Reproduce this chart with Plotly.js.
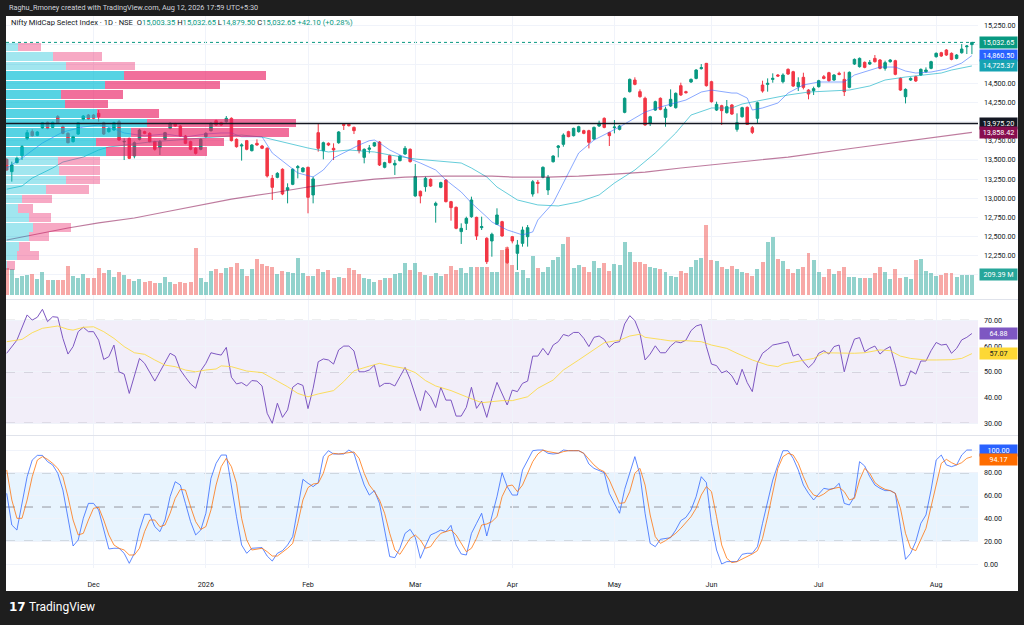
<!DOCTYPE html>
<html><head><meta charset="utf-8">
<script src="https://cdn.plot.ly/plotly-3.0.1.min.js"></script>
<style>html,body{margin:0;padding:0;background:#1e1e1e;}#chart{width:1024px;height:625px;}</style>
</head><body><div id="chart"></div>
<script>
// ---------------- DATA ----------------
const openP = [13507,13346,13464,13555,13777,13868,13820,13916,13990,13924,
14064,13933,13846,13738,13837,14029,14085,14085,14107,13985,
13868,13890,13998,13735,13781,13551,13768,13868,13846,13738,
13659,13768,13911,13968,13942,13811,13738,13651,13638,13803,
13881,14011,13985,13998,14042,13768,13681,13751,13620,13716,
13681,13651,13259,13272,13377,13107,13181,13398,13346,13403,
13042,13855,13620,13716,13651,13724,13964,13964,13924,13751,
13533,13638,13681,13733,13403,13555,13433,13490,13577,13638,
13029,13090,13151,13246,12907,13142,13237,12955,12881,12564,
12672,12759,12750,12616,12477,12442,12659,12694,12337,12498,
12281,12411,12498,13055,13207,13272,13107,13476,13663,13703,
13868,13816,13868,13881,13881,13772,13942,14042,13855,13920,
13898,14120,14390,14542,14390,14303,13977,14150,14303,14055,
14203,14181,14468,14390,14516,14563,14690,14759,14520,14150,
14207,14116,14216,13898,14063,14185,13920,14042,14476,14485,
14550,14607,14520,14681,14650,14455,14577,14411,14403,14455,
14585,14637,14542,14629,14550,14446,14750,14716,14772,14750,
14824,14803,14694,14781,14794,14563,14324,14542,14585,14607,
14650,14694,14846,14898,14933,14890,14824,14898,14976,15003.35];
const highP = [13520,13477,13542,13694,13890,13898,13875,13995,14000,14000,
14085,13950,13860,13815,13995,14085,14098,14098,14150,13998,
13925,13998,14020,13781,13790,13740,13905,13880,13860,13750,
13759,13865,13990,13985,13955,13825,13750,13665,13780,13860,
13990,14025,13998,14072,14055,13780,13716,13760,13705,13768,
13695,13665,13303,13340,13390,13194,13390,13433,13405,13411,
13281,13977,13738,13728,13716,13875,13977,13975,13935,13759,
13650,13694,13735,13745,13475,13568,13498,13560,13681,13650,
13446,13100,13281,13258,12955,13215,13250,12965,12892,12672,
12759,13020,12759,12759,12490,12550,12868,12705,12368,12507,
12455,12629,12650,13237,13237,13415,13303,13560,13694,13846,
13880,13920,13945,13893,13893,13935,14011,14055,13867,14020,
13955,14315,14562,14577,14420,14324,14075,14272,14315,14194,
14420,14380,14507,14402,14562,14684,14750,14765,14532,14259,
14219,14281,14228,14107,14193,14197,13942,14259,14533,14563,
14629,14620,14629,14694,14662,14577,14637,14423,14455,14545,
14607,14649,14619,14650,14650,14654,14823,14836,14784,14803,
14868,14815,14794,14815,14806,14575,14433,14577,14597,14693,
14707,14793,14902,14910,14945,14902,14880,15011,14998,15032.65];
const lowP = [13359,13216,13455,13498,13759,13803,13810,13905,13900,13915,
13977,13835,13715,13725,13825,14015,14020,14029,13998,13825,
13855,13880,13750,13498,13510,13520,13755,13835,13728,13620,
13564,13755,13900,13930,13800,13705,13625,13570,13625,13790,
13870,13945,13945,13985,13740,13660,13490,13625,13610,13685,
13640,13270,12977,13260,13040,12933,13170,13259,13335,12803,
12933,13607,13507,13680,13498,13710,13890,13935,13837,13585,
13455,13585,13670,13420,13390,13455,13303,13480,13565,13465,
13020,12933,13085,13148,12681,13130,12945,12707,12595,12403,
12585,12745,12455,12585,12142,12237,12650,12498,12142,12411,
12063,12368,12368,13020,13063,13260,13042,13465,13533,13672,
13795,13805,13855,13835,13650,13760,13930,13912,13681,13846,
13885,14108,14378,14473,14312,13946,13942,14138,14147,13933,
14190,14169,14334,14365,14504,14551,14678,14456,14247,14138,
13955,14104,14086,13868,14051,13955,13837,13976,14377,14390,
14507,14585,14498,14608,14451,14398,14420,14290,14346,14443,
14551,14521,14530,14604,14333,14434,14738,14704,14695,14738,
14769,14682,14664,14769,14604,14399,14237,14530,14517,14595,
14638,14682,14834,14843,14856,14799,14812,14886,14881,14879.5];
const closeP = [13368,13433,13520,13672,13855,13816,13864,13985,13911,13990,
13985,13846,13724,13803,13985,14072,14033,14042,14064,13837,
13911,13985,13759,13740,13520,13724,13890,13846,13738,13638,
13738,13855,13977,13942,13811,13716,13638,13585,13768,13846,
13977,13955,13955,14042,13751,13672,13694,13638,13694,13694,
13651,13290,13142,13324,13055,13137,13377,13411,13394,13011,
13251,13651,13724,13694,13629,13864,13951,13946,13881,13620,
13638,13655,13724,13433,13464,13464,13455,13551,13651,13477,
13281,13029,13259,13159,12933,13203,12955,12877,12607,12607,
12737,12977,12507,12629,12172,12529,12781,12507,12159,12442,
12389,12585,12616,13215,13194,13403,13272,13550,13681,13824,
13803,13911,13933,13846,13729,13924,13977,13924,13816,13928,
13942,14303,14550,14485,14324,13955,14063,14259,14159,14163,
14290,14368,14346,14377,14550,14672,14703,14468,14259,14224,
14142,14194,14098,13985,14181,13963,13859,14246,14398,14498,
14563,14594,14607,14620,14463,14511,14446,14359,14429,14533,
14563,14533,14607,14616,14390,14642,14811,14824,14707,14772,
14781,14694,14768,14803,14616,14411,14420,14563,14529,14681,
14672,14781,14890,14855,14868,14811,14868,14946,14985,15032.65];
// volume in millions
const volumeM = [279,269,175,203,209,220,168,244,157,157,
157,157,304,203,182,217,182,175,279,227,
262,192,244,209,164,150,168,140,147,129,
129,192,133,115,133,122,140,489,182,136,
251,272,227,286,297,335,269,203,269,374,
325,304,290,220,251,241,227,391,227,199,
199,272,244,262,175,192,182,286,262,220,
175,168,140,157,175,182,220,227,339,262,
332,244,209,199,227,199,220,304,262,286,
234,297,297,296,296,244,244,471,506,314,
244,262,175,409,279,244,296,366,401,534,
604,279,314,290,237,356,286,332,255,325,
314,551,454,349,349,325,296,279,269,237,
202,192,255,234,290,366,391,733,366,356,
290,269,304,269,244,227,202,272,342,558,
611,377,356,272,227,269,290,443,366,244,
185,272,216,251,290,192,192,175,175,182,
227,290,244,164,272,175,185,164,366,377,
255,227,199,209,227,227,185,209,209,209.39];
// moving averages: [bar number, value] read at vertices
const emaFastBars = [0,3,7,11,15,18,20,23,27,31,35,39,42,44,46,50,52,55,57,60,62,64,67,69,71,72,73,75,77,79,81,84,86,89,91,94,95,98,101,103,104,107,110,112,115,118,120,123,125,128,131,133,136,138,142,143,145,146,148,151,153,156,159,162,164,166,169,171,174,176,178,181,184,187,189];
const emaFastVals = [13394,13524,13720,13864,13929,13955,13929,13851,13812,13838,13799,13838,13851,13851,13802,13802,13590,13434,13329,13277,13368,13524,13629,13694,13750,13759,13720,13629,13564,13511,13459,13368,13238,13081,12938,12755,12690,12586,12521,12560,12716,12938,13329,13590,13759,13864,13929,14046,14124,14190,14242,14281,14385,14411,14372,14372,14307,14150,14177,14242,14372,14477,14516,14516,14516,14607,14672,14711,14711,14659,14633,14646,14685,14763,14860.5];
const emaSlowBars = [0,3,5,9,11,15,18,20,28,38,46,50,54,59,63,67,72,75,80,85,89,91,94,96,100,104,108,112,116,119,123,127,131,134,138,142,144,146,150,153,157,161,165,169,172,176,179,183,185,189];
const emaSlowVals = [13118,13159,13263,13394,13472,13537,13629,13668,13733,13785,13824,13798,13733,13655,13603,13629,13603,13564,13511,13485,13459,13394,13277,13146,12977,12912,12899,12951,13042,13198,13368,13590,13850,14085,14177,14177,14229,14255,14307,14346,14385,14398,14411,14464,14542,14581,14607,14633,14672,14725.37];
const sma200Bars = [0,5,12,18,25,31,38,44,52,59,65,72,78,85,95,99,106,112,119,125,132,140,153,166,179,189];
const sma200Vals = [12455,12520,12611,12677,12742,12820,12911,12989,13068,13146,13198,13250,13276,13289,13289,13276,13276,13289,13315,13341,13394,13446,13537,13655,13772,13858.42];
const hLineLevel = 13975.20;
// RSI (one value per bar, null where unreadable)
const rsiVals = [57.2,null,62.3,null,72.1,70.1,71.2,74.3,69.5,71.4,
71.2,63.0,56.9,59.8,65.6,67.3,65.6,65.6,62.3,54.8,
55.9,60.4,50.0,49.1,41.6,48.8,55.2,53.3,50.0,46.4,
50.0,53.9,57.2,56.1,50.7,47.9,45.3,43.6,50.4,53.3,
57.4,56.9,56.5,59.5,47.9,45.3,45.8,44.5,46.6,46.4,
44.5,33.9,30.0,37.8,32.3,35.2,44.0,45.5,44.7,35.7,
43.6,53.9,55.0,54.6,53.0,58.5,60.0,60.0,58.1,50.0,
50.0,50.7,52.6,44.2,45.5,45.5,44.5,48.1,51.7,47.1,
41.0,34.9,42.7,40.3,36.1,44.0,39.0,39.0,32.8,32.8,
36.2,44.0,35.8,38.6,32.3,39.7,45.9,41.6,37.1,42.9,
42.3,45.5,46.4,56.1,56.1,59.1,56.5,60.4,61.7,64.5,
63.9,65.3,65.3,63.0,59.8,63.4,63.9,62.6,59.5,61.3,
61.7,68.6,71.8,69.9,64.9,54.6,56.9,60.1,57.4,57.4,
60.0,61.7,61.3,62.3,66.0,67.8,68.4,59.8,53.0,52.4,
49.6,50.4,48.4,44.9,51.0,45.8,42.3,53.3,57.2,58.7,
60.4,60.8,61.3,61.7,56.1,56.9,53.9,51.6,53.5,57.2,
58.2,56.9,59.8,60.4,50.0,57.4,62.7,63.3,57.8,59.1,
60.0,56.9,58.7,59.8,52.6,44.5,44.9,50.4,49.1,54.2,
54.2,58.2,61.4,60.4,60.7,57.2,59.1,62.4,63.4,64.88];
const rsiMaBars = [0,3,5,7,10,12,13,15,17,19,21,23,25,27,29,31,33,35,37,39,41,42,44,47,50,52,55,57,59,61,64,66,68,71,73,76,78,80,82,84,87,90,93,97,99,102,104,107,109,112,115,117,120,122,124,125,128,130,133,136,138,141,143,146,149,151,152,155,158,160,163,166,168,171,173,175,177,180,182,185,187,189];
const rsiMaVals = [61.7,62.6,65.2,66.9,67.8,66.5,66.2,67.3,67.5,65.6,63.0,59.8,57.4,56.8,54.6,52.6,52.0,50.7,50.0,50.7,51.1,52.3,52.0,50.3,49.7,47.5,44.2,41.6,40.3,41.4,42.7,46.2,50.4,52.2,53.3,52.0,51.3,49.7,46.6,44.5,42.7,40.3,38.0,38.8,38.8,40.3,43.6,46.8,50.7,54.6,58.5,61.3,62.3,63.9,64.6,63.4,62.6,62.0,62.1,61.7,60.4,59.1,57.2,54.6,52.6,52.0,53.0,54.2,55.2,57.4,57.2,57.2,57.4,58.5,58.2,56.1,55.2,54.6,54.6,54.7,55.2,57.07];
// Stochastic RSI %K and %D (one value per bar)
const stochK = [62.0,34.2,29.8,53.2,76.6,91.2,95.3,95.3,89.8,86.9,
79.6,64.9,38.6,15.8,21.1,40.1,53.2,53.2,47.4,29.8,
13.2,13.8,13.8,9.4,0.6,9.4,29.8,43.6,43.6,32.8,
28.4,38.6,59.1,72.2,69.3,53.2,37.2,25.5,29.8,44.5,
75.2,88.3,95.6,95.6,67.9,41.5,16.7,9.4,13.8,13.8,
14.4,7.0,2.6,9.4,11.7,16.7,24.0,48.9,74.3,70.8,
67.9,71.4,94.2,99.4,96.5,96.5,96.5,100,97.1,82.5,
69.3,60.5,64.4,53.2,31.3,6.5,5.6,13.8,26.9,30.4,
23.4,5.0,15.8,25.5,27.5,29.8,28.4,33.9,16.7,8.8,
7.9,26.9,35.7,44.5,24.6,41.5,59.1,80.1,67.9,60.5,
60.5,82.5,null,99.4,100,100,97.1,96.5,97.1,100,
99.4,99.4,99.4,97.1,87.7,83.9,81.9,80.1,62.0,52.7,
44.5,65.5,81.0,94.2,78.1,44.5,18.1,15.2,21.7,22.5,
23.1,29.8,38.0,40.9,47.4,59.1,76.6,71.4,35.7,12.3,
0,2.1,2.1,2.1,8.5,9.4,9.4,15.2,35.7,56.2,
73.7,86.9,99.4,99.4,92.7,82.5,69.3,62.0,56.2,61.4,
66.4,65.5,66.4,70.8,53.2,51.8,59.1,89.8,86.0,76.6,
69.3,66.4,64.4,64.4,62.0,32.8,4.1,9.4,19.6,35.7,
43.0,64.9,91.2,95.6,86.9,85.4,86.9,95.6,100,100];
const stochD = [82.5,56.2,40.1,40.1,56.2,76.6,91.2,94.2,91.8,88.3,
83.9,76.6,59.1,38.6,25.5,26.9,38.6,48.9,49.7,38.6,
25.5,16.7,13.8,12.3,7.9,7.9,13.8,28.4,38.6,38.6,
32.8,34.2,44.5,57.6,65.5,64.9,50.3,37.2,30.4,32.8,
47.4,69.3,85.4,92.7,85.4,70.8,40.1,21.1,12.3,12.9,
13.8,10.8,7.0,7.0,10.3,13.8,18.1,35.7,56.2,67.0,
70.2,70.8,79.6,94.8,97.1,96.5,97.1,97.7,98.3,92.7,
79.6,69.3,63.5,56.2,44.5,26.9,12.3,8.5,15.2,22.5,
25.5,21.1,13.8,15.2,21.7,26.9,28.4,29.8,25.5,18.1,
10.8,13.8,22.5,34.2,35.1,37.2,41.5,59.1,68.4,69.3,
63.5,69.3,null,89.8,96.5,100,98.6,97.7,97.1,98.6,
99.4,99.4,99.4,97.1,91.8,86.9,83.1,81.0,73.7,63.5,
53.2,53.8,63.5,79.6,83.9,69.3,43.0,24.0,18.1,20.5,
23.4,26.9,31.3,36.3,41.5,48.9,60.5,67.9,63.5,41.5,
16.7,5.0,1.2,2.1,4.1,6.5,8.8,11.7,22.5,41.5,
62.0,83.9,94.2,97.1,95.6,88.3,76.6,66.4,60.5,59.1,
61.4,64.9,66.4,67.3,63.5,56.2,57.6,73.7,83.9,79.6,
71.4,67.9,65.5,64.4,62.0,48.9,26.9,13.8,11.7,21.1,
31.3,50.3,70.8,88.3,91.8,88.9,86.9,88.9,92.7,94.17];
// visible-range volume profile (24 rows, top to bottom)
const profileLevels = [14970.8,14847.1,14723.4,14599.7,14476.0,14352.3,14228.6,14104.9,13981.2,13857.5,13733.8,13610.1,13486.4,13362.7,13239.0,13115.3,12991.6,12867.9,12744.2,12620.5,12496.8,12373.1,12249.4,12125.7];
const profileUp = [12.3,47.3,59.7,118.3,99.3,55.3,59.3,90.7,141.3,124.7,90,99.7,52,52.7,60.3,39.7,16,12.3,23.3,27,22.7,13,10.7,1];
const profileDown = [22.7,48.4,69.3,141.7,114.7,62,43,62,148.7,158.6,128,101,41.7,41.3,33.7,43,29.7,14.4,21.7,37.7,20,10.7,22.3,7.6];
const valueAreaRows = [3, 11];
// axes
const monthTickBars = [17,39,59,80,99,119,138,159,182];
const monthTickText = ['Dec','2026','Feb','Mar','Apr','May','Jun','Jul','Aug'];
const priceTicks = [12000,12250,12500,12750,13000,13250,13500,13750,14000,14250,14500,14750,15000,15250];
const priceTicksCovered = [14000,14750,15000];   // labels hidden under price tags in the picture
const rsiTicks = [30,40,50,60,70];
const stochTicks = [0,20,40,60,80,100];
const stochTicksCovered = [100];
const headerText = 'Raghu_Rmoney created with TradingView.com, Aug 12, 2026 17:59 UTC+5:30';
const symbolText = 'Nifty MidCap Select Index · 1D · NSE';
const ohlcText = {O:'15,003.35', H:'15,032.65', L:'14,879.50', C:'15,032.65', chg:'+42.10 (+0.28%)'};

// ---------------- BUILD ----------------
const bars = openP.map((_, i) => i);
const UP = '#089981', DN = '#f23645';
const volColors = bars.map(i => closeP[i] >= openP[i] ? 'rgba(38,166,154,0.5)' : 'rgba(239,83,80,0.5)');
const inVA = r => r >= valueAreaRows[0] && r <= valueAreaRows[1];
const upCols = profileLevels.map((_, r) => inVA(r) ? 'rgba(0,188,212,0.66)' : 'rgba(0,188,212,0.37)');
const dnCols = profileLevels.map((_, r) => inVA(r) ? 'rgba(233,30,99,0.64)' : 'rgba(233,30,99,0.38)');

const traces = [
  {type:'candlestick', x:bars, open:openP, high:highP, low:lowP, close:closeP, xaxis:'x', yaxis:'y',
   increasing:{line:{color:UP,width:1}, fillcolor:UP}, decreasing:{line:{color:DN,width:1}, fillcolor:DN},
   whiskerwidth:0, hoverinfo:'skip'},
  {type:'scatter', mode:'lines', x:emaFastBars, y:emaFastVals, xaxis:'x', yaxis:'y', line:{color:'rgba(41,98,255,0.55)', width:1}},
  {type:'scatter', mode:'lines', x:emaSlowBars, y:emaSlowVals, xaxis:'x', yaxis:'y', line:{color:'rgba(0,172,193,0.6)', width:1}},
  {type:'scatter', mode:'lines', x:sma200Bars, y:sma200Vals, xaxis:'x', yaxis:'y', line:{color:'rgba(136,14,79,0.55)', width:1.2}},
  {type:'bar', x:bars, y:volumeM, xaxis:'x', yaxis:'y2', width:0.78, marker:{color:volColors, line:{width:0}}},
  {type:'bar', orientation:'h', y:profileLevels, x:profileUp, xaxis:'x2', yaxis:'y', width:113, marker:{color:upCols, line:{width:0}}},
  {type:'bar', orientation:'h', y:profileLevels, x:profileDown, xaxis:'x2', yaxis:'y', width:113, marker:{color:dnCols, line:{width:0}}},
  {type:'scatter', mode:'lines', x:bars, y:rsiVals, connectgaps:true, xaxis:'x', yaxis:'y3', line:{color:'#7e57c2', width:1}},
  {type:'scatter', mode:'lines', x:rsiMaBars, y:rsiMaVals, xaxis:'x', yaxis:'y3', line:{color:'rgba(253,216,53,0.8)', width:1}},
  {type:'scatter', mode:'lines', x:bars, y:stochK, connectgaps:true, xaxis:'x', yaxis:'y4', line:{color:'rgba(41,98,255,0.75)', width:1}},
  {type:'scatter', mode:'lines', x:bars, y:stochD, connectgaps:true, xaxis:'x', yaxis:'y4', line:{color:'rgba(255,109,0,0.75)', width:1}}
];

const PLOT_W = 972, PLOT_H = 552, ML = 6, MT = 16;
const px2x = X => (X - ML) / PLOT_W;
const px2y = Y => (MT + PLOT_H - Y) / PLOT_H;
const FONT = 'Roboto, "Liberation Sans", Arial, sans-serif';
const tickFont = {family:FONT, size:7.2, color:'#131722'};
const fmt2 = v => v.toLocaleString('en-US', {minimumFractionDigits:2, maximumFractionDigits:2});
const priceTickText = priceTicks.map(v => priceTicksCovered.includes(v) ? '' : fmt2(v));
const stochTickText = stochTicks.map(v => stochTicksCovered.includes(v) ? '' : v.toFixed(2));

function hline(yref, y, color, width, dash, layer){
  return {type:'line', xref:'paper', yref:yref, x0:0, x1:1, y0:y, y1:y, line:{color:color, width:width, dash:dash||'solid'}, layer:layer||'below'};
}
const shapes = [
  {type:'rect', xref:'paper', yref:'paper', x0:0, x1:px2x(1018), y0:px2y(591), y1:1, fillcolor:'#ffffff', line:{width:0}, layer:'below'},
  {type:'rect', xref:'paper', yref:'y3', x0:0, x1:1, y0:30, y1:70, fillcolor:'rgba(126,87,194,0.1)', line:{width:0}, layer:'below'},
  {type:'rect', xref:'paper', yref:'y4', x0:0, x1:1, y0:20, y1:80, fillcolor:'rgba(33,150,243,0.1)', line:{width:0}, layer:'below'},
  hline('y3', 70, '#9598a1', 1, 'dash'), hline('y3', 50, '#9598a1', 1, 'dash'), hline('y3', 30, '#9598a1', 1, 'dash'),
  hline('y4', 80, '#9598a1', 1, 'dash'), hline('y4', 50, '#9598a1', 1, 'dash'), hline('y4', 20, '#9598a1', 1, 'dash'),
  {type:'line', xref:'paper', yref:'paper', x0:0, x1:px2x(1018), y0:px2y(299.5), y1:px2y(299.5), line:{color:'#e0e3eb', width:1}, layer:'above'},
  {type:'line', xref:'paper', yref:'paper', x0:0, x1:px2x(1018), y0:px2y(435.5), y1:px2y(435.5), line:{color:'#e0e3eb', width:1}, layer:'above'},
  hline('y', closeP[closeP.length-1], UP, 1, 'dot'),
  hline('y', hLineLevel, '#131722', 1.6, 'solid', 'above')
];

function tag(yref, y, text, bg, fg, yshift){
  return {xref:'paper', yref:yref, x:px2x(979), y:y, xanchor:'left', yanchor:'middle', text:text, showarrow:false,
    bgcolor:bg, borderpad:1, width:35, align:'center', yshift:yshift||0,
    font:{family:FONT, size:7.2, color:fg||'#ffffff'}};
}
const lastClose = closeP[closeP.length-1];
const annotations = [
  tag('y', lastClose, fmt2(lastClose), UP),
  tag('y', emaFastVals[emaFastVals.length-1], fmt2(emaFastVals[emaFastVals.length-1]), '#2962ff'),
  tag('y', emaSlowVals[emaSlowVals.length-1], fmt2(emaSlowVals[emaSlowVals.length-1]), '#16a3b3'),
  tag('y', hLineLevel, fmt2(hLineLevel), '#131722'),
  tag('y', sma200Vals[sma200Vals.length-1], fmt2(sma200Vals[sma200Vals.length-1]), '#880e4f'),
  tag('y2', volumeM[volumeM.length-1], volumeM[volumeM.length-1].toFixed(2) + ' M', '#26a69a'),
  tag('y3', rsiVals[rsiVals.length-1], rsiVals[rsiVals.length-1].toFixed(2), '#7e57c2'),
  tag('y3', rsiMaVals[rsiMaVals.length-1], rsiMaVals[rsiMaVals.length-1].toFixed(2), '#fdd835', '#131722'),
  tag('y4', stochK[stochK.length-1], stochK[stochK.length-1].toFixed(2), '#2962ff'),
  tag('y4', stochD[stochD.length-1], stochD[stochD.length-1].toFixed(2), '#ff6d00', '#ffffff', -3),
  {xref:'paper', yref:'paper', x:px2x(7), y:px2y(8), xanchor:'left', yanchor:'middle', showarrow:false,
   text:headerText, font:{family:FONT, size:7.3, color:'#d1d4dc'}},
  {xref:'paper', yref:'paper', x:px2x(9), y:px2y(23), xanchor:'left', yanchor:'middle', showarrow:false,
   text: symbolText + '  O<span style="color:#089981">' + ohlcText.O + '</span> H<span style="color:#089981">' + ohlcText.H +
   '</span> L<span style="color:#089981">' + ohlcText.L + '</span> C<span style="color:#089981">' + ohlcText.C +
   '</span> <span style="color:#089981">' + ohlcText.chg + '</span>',
   font:{family:FONT, size:7.6, color:'#131722'}},
  {xref:'paper', yref:'paper', x:px2x(7), y:px2y(607), xanchor:'left', yanchor:'middle', showarrow:false,
   text:'<b>17</b>', font:{family:'"DejaVu Sans", sans-serif', size:12, color:'#ffffff'}},
  {xref:'paper', yref:'paper', x:px2x(27), y:px2y(607), xanchor:'left', yanchor:'middle', showarrow:false,
   text:'TradingView', font:{family:FONT, size:12, color:'#ffffff'}}
];

const layout = {
  width:1024, height:625,
  margin:{l:ML, r:46, t:MT, b:57, pad:0},
  paper_bgcolor:'#1e1e1e', plot_bgcolor:'rgba(0,0,0,0)',
  showlegend:false, hovermode:false, dragmode:false, barmode:'stack', boxgap:0.3,
  font:{family:FONT, size:7, color:'#131722'},
  xaxis:{range:[-0.137, 190.19], tickvals:monthTickBars, ticktext:monthTickText, showgrid:true, gridcolor:'#f0f3fa',
         zeroline:false, showline:false, ticks:'', anchor:'y4', tickfont:tickFont, ticklabelstandoff:11, rangeslider:{visible:false}, fixedrange:true},
  xaxis2:{overlaying:'x', range:[0, PLOT_W], visible:false, anchor:'y', fixedrange:true},
  yaxis:{domain:[px2y(299), 1], range:[11685, 15377], side:'right', tickvals:priceTicks, ticktext:priceTickText, showgrid:true,
         gridcolor:'#f0f3fa', zeroline:false, ticks:'', ticklabelstandoff:5, tickfont:tickFont, anchor:'x', fixedrange:true},
  yaxis2:{overlaying:'y', range:[-42, 2921], visible:false, fixedrange:true},
  yaxis3:{domain:[px2y(435), px2y(300)], range:[25.45, 77.9], side:'right', tickvals:rsiTicks, tickformat:'.2f', showgrid:true,
          gridcolor:'#f0f3fa', zeroline:false, ticks:'', ticklabelstandoff:5, tickfont:tickFont, anchor:'x', fixedrange:true},
  yaxis4:{domain:[0, px2y(436)], range:[-3.5, 112.3], side:'right', tickvals:stochTicks, ticktext:stochTickText, showgrid:true,
          gridcolor:'#f0f3fa', zeroline:false, ticks:'', ticklabelstandoff:5, tickfont:tickFont, anchor:'x', fixedrange:true},
  shapes:shapes, annotations:annotations
};
Plotly.newPlot('chart', traces, layout, {staticPlot:true, displayModeBar:false});
</script></body></html>
